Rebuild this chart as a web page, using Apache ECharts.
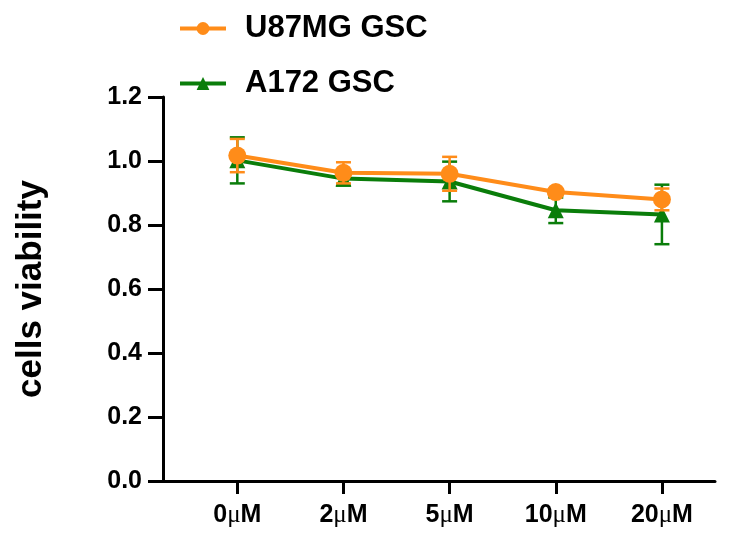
<!DOCTYPE html>
<html><head><meta charset="utf-8">
<script src="https://cdn.jsdelivr.net/npm/echarts@6/dist/echarts.min.js"></script>
<style>html,body{margin:0;padding:0;background:#fff}#c{width:734px;height:537px}</style>
</head><body><div id="c"></div>
<script>
const categories = ['0μM', '2μM', '5μM', '10μM', '20μM'];
const u87Mean = [1.017, 0.963, 0.960, 0.903, 0.880];
const u87Err  = [0.052, 0.033, 0.053, 0.010, 0.034];
const a172Mean = [1.002, 0.945, 0.936, 0.846, 0.833];
const a172Err  = [0.072, 0.022, 0.062, 0.040, 0.093];
const yTicks = [0, 0.2, 0.4, 0.6, 0.8, 1.0, 1.2];

const ORANGE = '#FF8C19';
const GREEN = '#0A7D0A';
const FONT = 'Liberation Sans, Arial, sans-serif';

function errData(mean, err) {
  return mean.map((m, i) => [i, m - err[i], m + err[i]]);
}
function errSeries(name, mean, err, color, z) {
  return {
    type: 'custom', name: name, z: z, silent: true,
    itemStyle: { color: color },
    data: errData(mean, err),
    renderItem: function (params, api) {
      const x = api.value(0);
      const lo = api.coord([x, api.value(1)]);
      const hi = api.coord([x, api.value(2)]);
      const hw = 7.5;
      const st = { stroke: color, lineWidth: 2.5 };
      return { type: 'group', children: [
        { type: 'line', shape: { x1: lo[0], y1: lo[1], x2: hi[0], y2: hi[1] }, style: st },
        { type: 'line', shape: { x1: lo[0] - hw, y1: lo[1], x2: lo[0] + hw, y2: lo[1] }, style: st },
        { type: 'line', shape: { x1: hi[0] - hw, y1: hi[1], x2: hi[0] + hw, y2: hi[1] }, style: st }
      ]};
    },
    encode: { x: 0, y: [1, 2] }
  };
}

const chart = echarts.init(document.getElementById('c'));
chart.setOption({
  animation: false,
  legend: {
    orient: 'vertical', left: 173, top: 8, itemGap: 24,
    itemWidth: 46, itemHeight: 16,
    lineStyle: { width: 4 },
    textStyle: { fontFamily: FONT, fontSize: 31, fontWeight: 'bold', color: '#000', padding: [0, 0, 0, 14] },
    data: [{ name: 'U87MG GSC' }, { name: 'A172 GSC' }]
  },
  grid: { left: 163, right: 19, top: 97, bottom: 56, containLabel: false },
  xAxis: {
    type: 'value', min: -0.7, max: 4.5,
    splitLine: { show: false },
    axisLine: { show: true, onZero: false, lineStyle: { color: '#000', width: 3 } },
    axisTick: { show: true, length: 13, lineStyle: { color: '#000', width: 3 }, customValues: [0, 1, 2, 3, 4] },
    axisLabel: {
      customValues: [0, 1, 2, 3, 4], margin: 22,
      formatter: function (v) {
        const s = categories[Math.round(v)];
        const parts = s.split('μ');
        return '{a|' + parts[0] + '}{m|μ}{a|' + parts[1] + '}';
      },
      rich: {
        a: { fontFamily: FONT, fontSize: 25, fontWeight: 'bold', color: '#000' },
        m: { fontFamily: 'Liberation Serif, DejaVu Serif, serif', fontSize: 25, fontWeight: 'normal', color: '#000' }
      }
    }
  },
  yAxis: {
    type: 'value', min: 0, max: 1.2, interval: 0.2,
    name: 'cells viability', nameLocation: 'middle', nameGap: 114, nameRotate: 90,
    nameTextStyle: { fontFamily: FONT, fontSize: 35, fontWeight: 'bold', color: '#000' },
    splitLine: { show: false },
    axisLine: { show: true, onZero: false, lineStyle: { color: '#000', width: 3 } },
    axisTick: { show: true, length: 15, lineStyle: { color: '#000', width: 3 } },
    axisLabel: {
      margin: 21, formatter: v => yTicks.includes(+v.toFixed(1)) ? v.toFixed(1) : '',
      fontFamily: FONT, fontSize: 25, fontWeight: 'bold', color: '#000'
    }
  },
  series: [
    errSeries('A172 err', a172Mean, a172Err, GREEN, 2),
    {
      name: 'A172 GSC', type: 'line', z: 3,
      data: a172Mean.map((v, i) => [i, v]),
      symbol: 'triangle', symbolSize: 16,
      lineStyle: { color: GREEN, width: 4 }, itemStyle: { color: GREEN }
    },
    errSeries('U87 err', u87Mean, u87Err, ORANGE, 4),
    {
      name: 'U87MG GSC', type: 'line', z: 5,
      data: u87Mean.map((v, i) => [i, v]),
      symbol: 'circle', symbolSize: 18,
      lineStyle: { color: ORANGE, width: 4 }, itemStyle: { color: ORANGE }
    }
  ]
});
</script></body></html>
